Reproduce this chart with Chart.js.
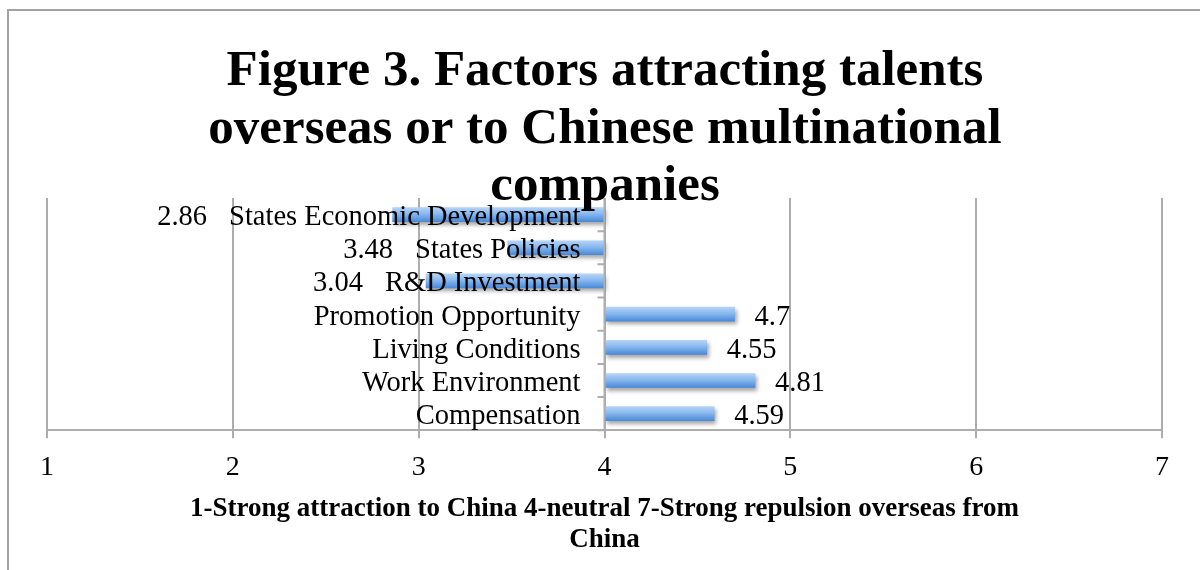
<!DOCTYPE html>
<html><head><meta charset="utf-8">
<script src="https://cdn.jsdelivr.net/npm/chart.js@4.4.1/dist/chart.umd.min.js"></script>
<style>
html,body{margin:0;padding:0;background:#fff;}
#wrap{position:relative;width:1200px;height:570px;overflow:hidden;background:#fff;}
#frame{position:absolute;left:7px;top:9px;width:1300px;height:700px;border-top:2px solid #a3a3a3;border-left:2px solid #a3a3a3;}
canvas{position:absolute;left:0;top:0;}
</style></head><body>
<div id="wrap"><div id="frame"></div><canvas id="c" width="1200" height="570"></canvas></div>
<script>
const titleLines = ['Figure 3. Factors attracting talents', 'overseas or to Chinese multinational', 'companies'];
const categories = ['States Economic Development', 'States Policies', 'R&D Investment', 'Promotion Opportunity', 'Living Conditions', 'Work Environment', 'Compensation'];
const values = [2.86, 3.48, 3.04, 4.7, 4.55, 4.81, 4.59];
const valueLabels = ['2.86', '3.48', '3.04', '4.7', '4.55', '4.81', '4.59'];
const baseValue = 4;
const xTicks = [1, 2, 3, 4, 5, 6, 7];
const axisTitle = ['1-Strong attraction to China 4-neutral 7-Strong repulsion overseas from', 'China'];

const SERIF = '"Liberation Serif", "Times New Roman", serif';
const GRID = '#adadad';

const overlay = {
  id: 'overlay',
  beforeDatasetsDraw(chart) {
    const ctx = chart.ctx;
    ctx.save();
    ctx.shadowColor = 'rgba(0,0,0,0.35)';
    ctx.shadowBlur = 4;
    ctx.shadowOffsetX = 2;
    ctx.shadowOffsetY = 3;
  },
  afterDatasetsDraw(chart) {
    const ctx = chart.ctx;
    ctx.restore();
    const xs = chart.scales.x, ys = chart.scales.y, area = chart.chartArea;
    const ax = xs.getPixelForValue(baseValue);
    ctx.save();
    ctx.strokeStyle = GRID;
    ctx.lineWidth = 2;
    ctx.beginPath();
    ctx.moveTo(ax, area.top);
    ctx.lineTo(ax, area.bottom);
    const band = ys.getPixelForValue(1) - ys.getPixelForValue(0);
    for (let i = 0; i <= categories.length; i++) {
      const yb = ys.getPixelForValue(0) - band / 2 + i * band;
      ctx.moveTo(ax - 7, yb);
      ctx.lineTo(ax, yb);
    }
    ctx.stroke();
    ctx.font = '28.5px ' + SERIF;
    ctx.fillStyle = '#000';
    ctx.textBaseline = 'middle';
    const labelRight = ax - 24;
    const meta = chart.getDatasetMeta(0);
    categories.forEach((c, i) => {
      const yc = ys.getPixelForValue(i) + 3;
      ctx.textAlign = 'right';
      ctx.fillText(c, labelRight, yc);
      const el = meta.data[i];
      const txt = valueLabels[i];
      if (values[i] >= baseValue) {
        ctx.textAlign = 'left';
        ctx.fillText(txt, el.x + 20, yc);
      } else {
        const w = ctx.measureText(c).width;
        ctx.textAlign = 'right';
        ctx.fillText(txt, labelRight - w - 22, yc);
      }
    });
    ctx.restore();
  },
  afterDraw(chart) {
    const ctx = chart.ctx;
    ctx.save();
    ctx.font = 'bold 51px ' + SERIF;
    ctx.fillStyle = '#000';
    ctx.textAlign = 'center';
    ctx.textBaseline = 'alphabetic';
    titleLines.forEach((t, i) => ctx.fillText(t, 605, 85 + i * 57.5));
    ctx.restore();
  }
};

new Chart(document.getElementById('c'), {
  type: 'bar',
  data: {
    labels: categories,
    datasets: [{
      data: values,
      base: baseValue,
      barThickness: 14,
      borderWidth: 0,
      backgroundColor(ctx) {
        const chart = ctx.chart;
        const ys = chart.scales && chart.scales.y;
        if (!chart.chartArea || !ys || ctx.type !== 'data') return '#7fb0ea';
        const c = ys.getPixelForValue(ctx.dataIndex);
        const g = chart.ctx.createLinearGradient(0, c - 7, 0, c + 7);
        g.addColorStop(0, '#b4d3f7');
        g.addColorStop(0.45, '#88b8ee');
        g.addColorStop(1, '#4a8ada');
        return g;
      }
    }]
  },
  options: {
    indexAxis: 'y',
    responsive: false,
    animation: false,
    layout: { padding: { left: 47, right: 38, top: 198, bottom: 14 } },
    plugins: { legend: { display: false }, tooltip: { enabled: false }, title: { display: false } },
    scales: {
      x: {
        type: 'linear', min: 1, max: 7,
        afterBuildTicks(s) { s.ticks = xTicks.map(v => ({ value: v })); },
        ticks: { color: '#000', font: { family: SERIF, size: 28, lineHeight: 0.33 }, padding: 25, maxRotation: 0 },
        grid: { color: GRID, lineWidth: 2, tickLength: 8, drawTicks: true },
        border: { display: true, color: GRID, width: 2 },
        title: {
          display: true, text: axisTitle, color: '#000',
          font: { family: SERIF, size: 27, weight: 'bold', lineHeight: 1.15 },
          padding: { top: -3.6, bottom: 0 }
        }
      },
      y: { display: false }
    }
  },
  plugins: [overlay]
});
</script>
</body></html>
